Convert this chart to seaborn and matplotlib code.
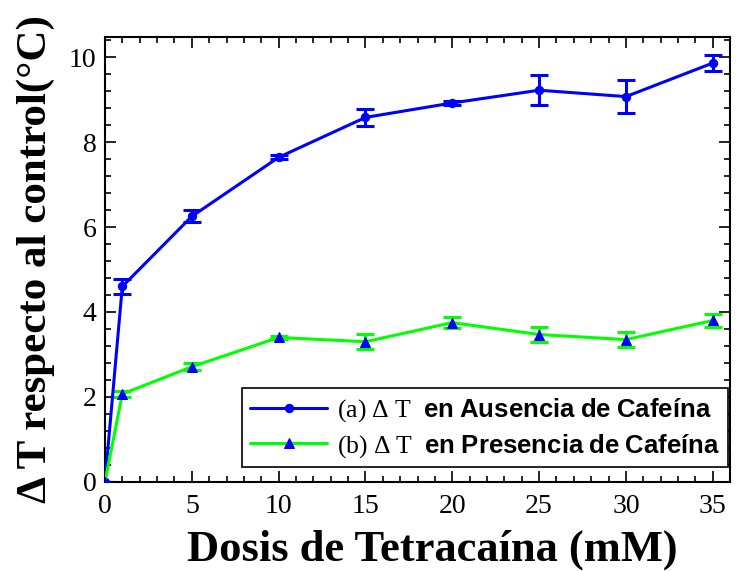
import matplotlib
matplotlib.use("Agg")
import matplotlib.pyplot as plt
import seaborn as sns
import pandas as pd
import numpy as np
from matplotlib.ticker import MultipleLocator

sns.set_style("ticks")
plt.rcParams['font.family'] = ['Liberation Serif', 'DejaVu Serif']
plt.rcParams['mathtext.fontset'] = 'custom'
plt.rcParams['mathtext.rm'] = 'Liberation Serif'
plt.rcParams['mathtext.it'] = 'Liberation Serif:italic'
plt.rcParams['mathtext.bf'] = 'Liberation Sans:bold'
plt.rcParams['text.color'] = 'black'
plt.rcParams['axes.labelcolor'] = 'black'
plt.rcParams['xtick.color'] = 'black'
plt.rcParams['ytick.color'] = 'black'

dosis = [0, 1, 5, 10, 15, 20, 25, 30, 35]
ausencia = [0.0, 4.60, 6.25, 7.64, 8.58, 8.92, 9.22, 9.07, 9.86]
ausencia_err = [0.0, 0.18, 0.14, 0.05, 0.20, 0.05, 0.35, 0.39, 0.19]
presencia = [0.0, 2.07, 2.71, 3.40, 3.30, 3.75, 3.47, 3.35, 3.80]
presencia_err = [0.0, 0.08, 0.08, 0.03, 0.18, 0.13, 0.17, 0.18, 0.15]

label_a = r"$\mathrm{(a)\ \Delta\ T}$  $\mathbf{en\ Ausencia\ de\ Cafeína}$"
label_b = r"$\mathrm{(b)\ \Delta\ T}$  $\mathbf{en\ Presencia\ de\ Cafeína}$"

df = pd.DataFrame({
    "Dosis": dosis * 2,
    "dT": ausencia + presencia,
    "serie": [label_a] * len(dosis) + [label_b] * len(dosis),
})

fig = plt.figure(figsize=(7.39, 5.71), dpi=100)
ax = fig.add_axes([0.142, 0.156, 0.846, 0.779])

ax.errorbar(dosis, ausencia, yerr=ausencia_err, fmt='none', ecolor='#0000ff',
            elinewidth=2.2, capsize=6.5, capthick=2.2, zorder=2)
ax.errorbar(dosis, presencia, yerr=presencia_err, fmt='none', ecolor='#00ff00',
            elinewidth=2.2, capsize=6.5, capthick=2.2, zorder=2)

sns.lineplot(data=df[df.serie == label_a], x="Dosis", y="dT", ax=ax,
             color='#0000ff', lw=2.2, marker='o', markersize=6,
             markerfacecolor='#0000ff', markeredgecolor='#0000ff',
             label=label_a, zorder=3)
sns.lineplot(data=df[df.serie == label_b], x="Dosis", y="dT", ax=ax,
             color='#00ff00', lw=2.2, marker='^', markersize=7,
             markerfacecolor='#0000ff', markeredgecolor='#0000ff',
             label=label_b, zorder=3)

ax.set_xlim(0, 36)
ax.set_ylim(0, 10.47)
ax.xaxis.set_major_locator(MultipleLocator(5))
ax.xaxis.set_minor_locator(MultipleLocator(1))
ax.yaxis.set_major_locator(MultipleLocator(2))
ax.yaxis.set_minor_locator(MultipleLocator(0.4))
ax.tick_params(which='both', direction='in', top=True, right=True, width=1.2,
               labelsize=20, color='black', labelcolor='black')
ax.tick_params(axis='x', which='major', pad=9)
ax.tick_params(axis='y', which='major', pad=6)
ax.tick_params(which='major', length=8)
ax.tick_params(which='minor', length=4)
for s in ax.spines.values():
    s.set_linewidth(1.5)
    s.set_color('black')

ax.set_xlabel("Dosis de Tetracaína (mM)", fontsize=32, fontweight='bold')
ax.set_ylabel("Δ T respecto al control(°C)", fontsize=31, fontweight='bold')
ax.xaxis.set_label_coords(0.523, -0.106)
ax.yaxis.set_label_coords(-0.08, 0.50)

leg = ax.legend(loc='lower right', bbox_to_anchor=(0.997, 0.033), fontsize=18.5,
                frameon=True, fancybox=False, edgecolor='black', framealpha=1,
                handlelength=3.0, borderpad=0.3, labelspacing=0.3, handletextpad=0.4,
                borderaxespad=0)
leg.get_frame().set_linewidth(1.2)

fig.savefig("out.png", dpi=100)
